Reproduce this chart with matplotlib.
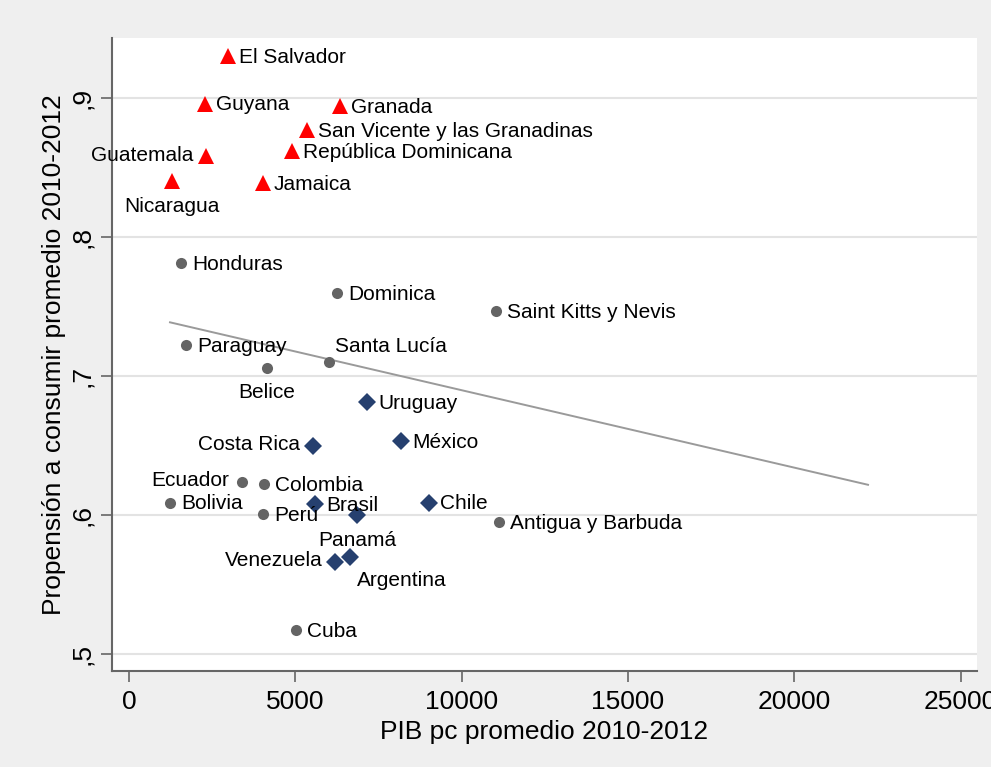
import matplotlib
matplotlib.use('Agg')
import matplotlib.pyplot as plt
from matplotlib.ticker import FuncFormatter

# red triangles
tri_names = ['El Salvador', 'Guyana', 'Granada', 'San Vicente y las Granadinas',
             'República Dominicana', 'Guatemala', 'Nicaragua', 'Jamaica']
tri_gdp = [2977, 2285, 6344, 5352, 4900, 2315, 1293, 4029]
tri_prop = [0.930, 0.896, 0.894, 0.877, 0.862, 0.858, 0.840, 0.839]

# gray circles
circ_names = ['Honduras', 'Dominica', 'Saint Kitts y Nevis', 'Paraguay', 'Belice',
              'Santa Lucía', 'Ecuador', 'Colombia', 'Bolivia', 'Perú',
              'Antigua y Barbuda', 'Cuba']
circ_gdp = [1563, 6254, 11034, 1714, 4149, 6013, 3397, 4059, 1233, 4029, 11124, 5021]
circ_prop = [0.781, 0.760, 0.747, 0.722, 0.706, 0.710, 0.624, 0.622, 0.609, 0.601, 0.595, 0.517]

# navy diamonds
dia_names = ['Uruguay', 'Costa Rica', 'México', 'Brasil', 'Chile', 'Panamá',
             'Venezuela', 'Argentina']
dia_gdp = [7156, 5532, 8178, 5592, 9020, 6855, 6194, 6645]
dia_prop = [0.681, 0.650, 0.653, 0.608, 0.609, 0.600, 0.566, 0.570]

# linear fit (intercept, slope) and the x range it covers
fit_coef = (0.7455, -5.57e-6)
fit_x = [1233, 22219]

x_ticks = [0, 5000, 10000, 15000, 20000, 25000]
y_ticks = [0.5, 0.6, 0.7, 0.8, 0.9]

# label placement: (dx, dy) in points, ha
LEFT = (-9, 1, 'right')
BELOW = (0, -18, 'center')
label_pos = {
    'Guatemala': LEFT, 'Ecuador': LEFT, 'Costa Rica': LEFT, 'Venezuela': LEFT,
    'Nicaragua': BELOW, 'Belice': BELOW, 'Panamá': BELOW,
    'Argentina': (5, -17, 'left'),
    'Santa Lucía': (4, 11, 'left'),
}
RIGHT = (8, -1, 'left')

plt.rcParams['font.family'] = ['Liberation Sans', 'DejaVu Sans']

fig = plt.figure(figsize=(9.91, 7.67), dpi=100, facecolor='#efefef')
ax = fig.add_axes([0.1130, 0.1252, 0.8729, 0.8253])
ax.set_facecolor('white')

ax.set_xlim(-511, 25496)
ax.set_ylim(0.4878, 0.9432)

for yv in y_ticks:
    ax.axhline(yv, color='#e3e3e3', lw=1.5, zorder=0)

fy = [fit_coef[0] + fit_coef[1] * v for v in fit_x]
ax.plot(fit_x, fy, color='#9a9a9a', lw=1.4, zorder=1)

ax.plot(tri_gdp, tri_prop, '^', color='#ff0000', ms=11, mew=0, zorder=3)
ax.plot(circ_gdp, circ_prop, 'o', color='#646464', ms=8, mew=0, zorder=3)
ax.plot(dia_gdp, dia_prop, 'D', color='#26406f', ms=9, mew=0, zorder=3)

for names, xs, ys in [(tri_names, tri_gdp, tri_prop),
                      (circ_names, circ_gdp, circ_prop),
                      (dia_names, dia_gdp, dia_prop)]:
    for n, xv, yv in zip(names, xs, ys):
        dx, dy, ha = label_pos.get(n, RIGHT)
        ax.annotate(n, (xv, yv), xytext=(dx, dy), textcoords='offset points',
                    ha=ha, va='center', fontsize=15, color='black', zorder=4)

ax.set_xticks(x_ticks)
ax.set_yticks(y_ticks)
ax.yaxis.set_major_formatter(FuncFormatter(lambda v, p: ('%g' % v).replace('0.', ',')))
ax.tick_params(axis='both', direction='out', length=8, width=1.2, color='#666666',
               labelsize=19)
ax.tick_params(axis='x', pad=6)
ax.tick_params(axis='y', pad=5)
for lab in ax.get_yticklabels():
    lab.set_rotation(90)
    lab.set_va('center')

for s in ['top', 'right']:
    ax.spines[s].set_visible(False)
for s in ['left', 'bottom']:
    ax.spines[s].set_color('#666666')
    ax.spines[s].set_linewidth(1.5)

ax.set_xlabel('PIB pc promedio 2010-2012', fontsize=19, labelpad=4)
ax.set_ylabel('Propensión a consumir promedio 2010-2012', fontsize=19)
ax.yaxis.set_label_coords(-0.053, 0.5)

fig.savefig('out.png', dpi=100, facecolor=fig.get_facecolor())
